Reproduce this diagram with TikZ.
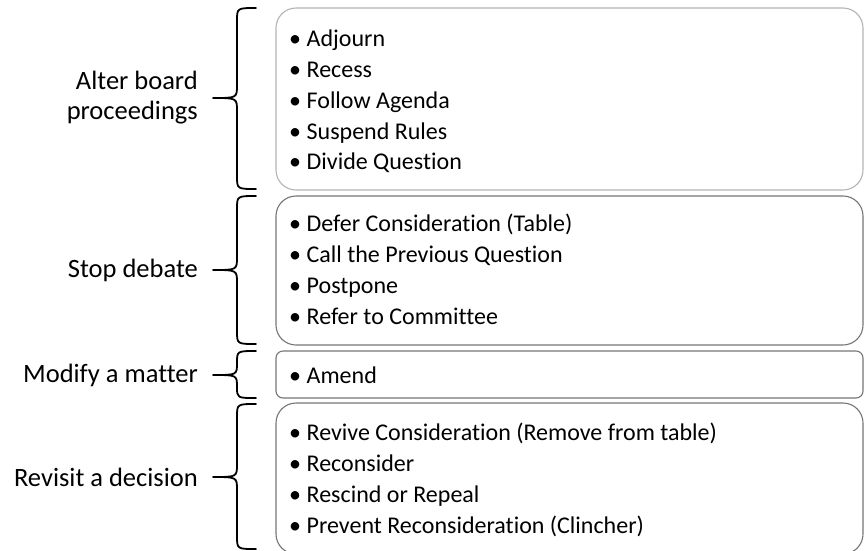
\documentclass[tikz,border=0pt]{standalone}
\usepackage{fontspec}
\setmainfont{Carlito}[Ligatures={NoCommon}]
\definecolor{lightedge}{HTML}{B4B4B4}
\definecolor{darkedge}{HTML}{767676}
\newcommand{\bracepath}[3]{% top, mid, bottom
  (256,#1) .. controls (237,#1) .. (237,#1+13) -- (237,#2-13)
  .. controls (237,#2) .. (213,#2) .. controls (237,#2) .. (237,#2+13)
  -- (237,#3-13) .. controls (237,#3) .. (256,#3)}
\newcommand{\bul}{•\hspace{5.5pt}}
\begin{document}
\begin{tikzpicture}[x=1pt,y=-1pt,
  box/.style={fill=white, line width=1.1pt, inner sep=0pt, rounded corners=20pt},
  item/.style={anchor=base west, inner sep=0pt, font=\fontsize{24}{28}\selectfont},
  lab/.style={anchor=east, align=right, inner sep=0pt, font=\fontsize{26.5}{30}\selectfont},
  bracestyle/.style={line width=1.8pt, line cap=round, line join=round}]
\useasboundingbox (0,0) rectangle (865,550);
% boxes
\node[box, draw=lightedge, minimum width=587pt, minimum height=182pt] (b1) at (569.5,99) {};
\node[box, draw=darkedge, minimum width=587pt, minimum height=149pt] (b2) at (569.5,270.5) {};
\node[box, draw=darkedge, rounded corners=7pt, minimum width=587pt, minimum height=47pt] (b3) at (569.5,374.5) {};
\node[box, draw=darkedge, minimum width=587pt, minimum height=151pt] (b4) at (569.5,478.5) {};
% items (baseline = visual centre + 8)
\node[item] (i11) at (289,46) {\bul Adjourn};
\node[item] (i12) at (289,77) {\bul Recess};
\node[item] (i13) at (289,108) {\bul Follow Agenda};
\node[item] (i14) at (289,139) {\bul Suspend Rules};
\node[item] (i15) at (289,169) {\bul Divide Question};
\node[item] (i21) at (289,231) {\bul Defer Consideration (Table)};
\node[item] (i22) at (289,262) {\bul Call the Previous Question};
\node[item] (i23) at (289,293) {\bul Postpone};
\node[item] (i24) at (289,324) {\bul Refer to Committee};
\node[item] (i31) at (289,383) {\bul Amend};
\node[item] (i41) at (289,440) {\bul Revive Consideration (Remove from table)};
\node[item] (i42) at (289,471) {\bul Reconsider};
\node[item] (i43) at (289,502) {\bul Rescind or Repeal};
\node[item] (i44) at (289,533) {\bul Prevent Reconsideration (Clincher)};
% labels
\node[lab] (l1) at (198,98) {Alter board\\proceedings};
\node[lab] (l2) at (198,270) {Stop debate};
\node[lab] (l3) at (198,375) {Modify a matter};
\node[lab] (l4) at (198,477) {Revisit a decision};
% braces
\draw[bracestyle] \bracepath{8}{98}{189};
\draw[bracestyle] \bracepath{196}{270}{344};
\draw[bracestyle] (256,351) .. controls (237,351) .. (237,363) .. controls (237,375) .. (213,375) .. controls (237,375) .. (237,387) .. controls (237,398) .. (256,398);
\draw[bracestyle] \bracepath{404}{477}{549};
\end{tikzpicture}
\end{document}
